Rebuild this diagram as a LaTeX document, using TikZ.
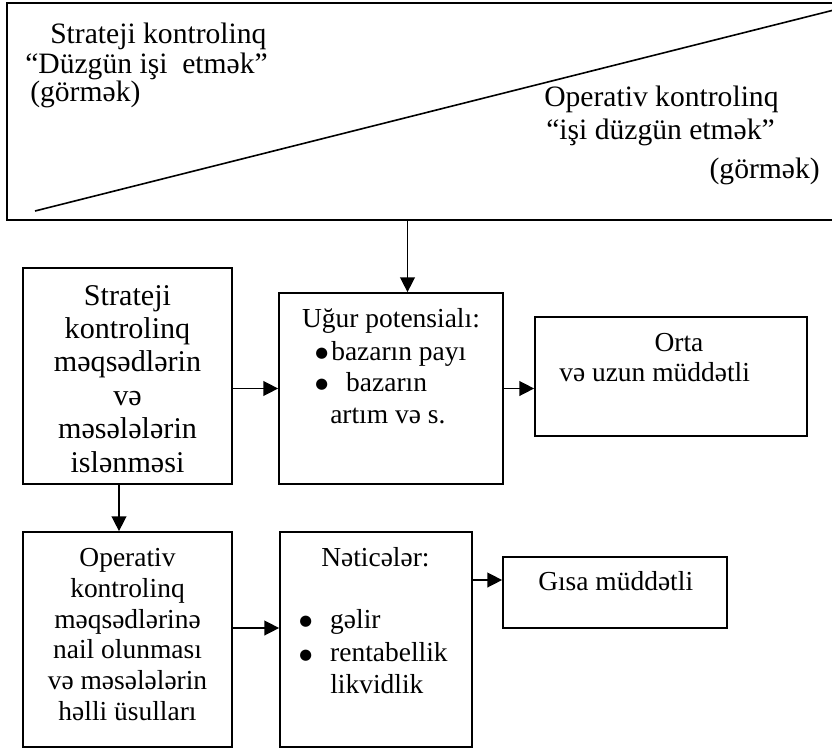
\documentclass[tikz,border=0pt]{standalone}
\usepackage{fontspec}
\setmainfont{Liberation Serif}
\newfontfamily\symfont{DejaVu Sans}
\usetikzlibrary{arrows.meta}
\newcommand\szTop{\fontsize{22.2pt}{26pt}\selectfont}
\newcommand\szLeft{\fontsize{22.6pt}{26pt}\selectfont}
\newcommand\szBody{\fontsize{20.6pt}{24pt}\selectfont}
% bullet set in a box of the given width, followed by the item text
\newcommand\bitem[2]{\makebox[#1][l]{\raisebox{1.8pt}{\symfont\fontsize{11pt}{12pt}\selectfont ●}}#2}
\begin{document}
\begin{tikzpicture}[x=0.75pt,y=-0.75pt,
  blk/.style 2 args={draw, line width=1.3pt, inner sep=0pt,
    minimum width=#1*0.75pt, minimum height=#2*0.75pt},
  ctr/.style={inner sep=0pt, anchor=base},
  lft/.style={inner sep=0pt, anchor=base west},
  rgt/.style={inner sep=0pt, anchor=base east},
  arr/.style={-{Triangle[length=11pt,width=11pt]}, line width=1.1pt}]
\useasboundingbox (0,0) rectangle (832,749);
\clip (0,0) rectangle (832,749);

% boxes
\node[blk={827}{217}] (top)  at (420.5,111.5) {};
\node[blk={209}{216}] (lbox) at (127.5,376) {};
\node[blk={224}{191}] (mid)  at (391,388.5) {};
\node[blk={272}{119}] (orta) at (671,376.5) {};
\node[blk={209}{215}] (llow) at (127.5,639.5) {};
\node[blk={192}{215}] (net)  at (376,639.5) {};
\node[blk={224}{71}]  (gisa) at (615,592.5) {};

% diagonal split of the header
\draw[line width=1.2pt] (35,211) -- (834,10);

% header texts
\node[lft] (s1) at (50,44)  {\szTop Strateji kontrolinq};
\node[lft] (s2) at (25,74)  {\szTop “Düzgün işi\ \ etmək”};
\node[lft] (s3) at (30,102) {\szTop (görmək)};
\node[lft] (o1) at (544,107) {\szTop Operativ kontrolinq};
\node[lft] (o2) at (546,139) {\szTop “işi düzgün etmək”};
\node[rgt] (o3) at (820,178) {\szTop (görmək)};

% strategic goals box
\foreach \t/\yy [count=\i] in {Strateji/305, kontrolinq/338, məqsədlərin/371.5,
    və/405, məsələlərin/438.5, islənməsi/472}
  \node[ctr] (lt\i) at (127.5,\yy) {\szLeft \t};

% operative goals box
\foreach \t/\yy [count=\i] in {Operativ/566, kontrolinq/597, məqsədlərinə/628,
    nail olunması/658, və məsələlərin/689, həlli üsulları/720}
  \node[ctr] (bt\i) at (127.5,\yy) {\szBody \t};

% success potential box
\node[ctr] (m1) at (391,327) {\szBody Uğur potensialı:};
\node[lft] (m2) at (315,360) {\szBody \bitem{12pt}{bazarın payı}};
\node[lft] (m3) at (315,391) {\szBody \bitem{23.2pt}{bazarın}};
\node[lft] (m4) at (330,423) {\szBody artım və s.};

% term boxes
\node[ctr] (r1) at (679,351.7) {\szBody Orta};
\node[lft] (r2) at (559,381.7) {\szBody və uzun müddətli};
\node[lft] (g1) at (538,590.7) {\szBody Gısa müddətli};

% results box
\node[lft] (n1) at (321,566) {\szBody Nəticələr:};
\node[lft] (n2) at (299,628) {\szBody \bitem{23.2pt}{gəlir}};
\node[lft] (n3) at (299,661.7) {\szBody \bitem{23.2pt}{rentabellik}};
\node[lft] (n4) at (330,693) {\szBody likvidlik};

% connectors
\coordinate (c1) at (407.5,0);
\coordinate (c2) at (119,0);
\coordinate (c3) at (0,628);
\coordinate (c4) at (0,580);
\draw[arr] (top.south -| c1) -- (mid.north -| c1);
\draw[arr] (lbox.south -| c2) -- (llow.north -| c2);
\draw[arr] (lbox.east |- mid.west) -- (mid.west);
\draw[arr] (mid.east) -- (mid.east -| orta.west);
\draw[arr] (llow.east |- c3) -- (net.west |- c3);
\draw[arr] (net.east |- c4) -- (gisa.west |- c4);
\end{tikzpicture}
\end{document}
